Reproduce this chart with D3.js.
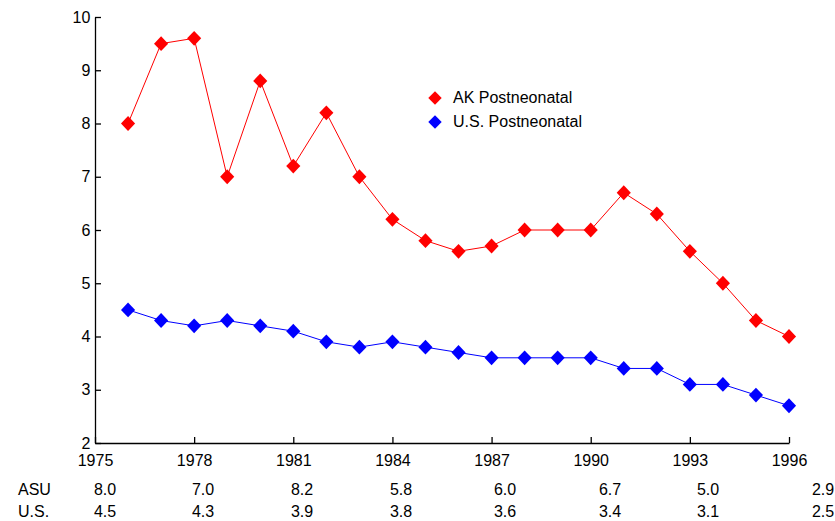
<!DOCTYPE html>
<html><head><meta charset="utf-8">
<script src="https://cdn.jsdelivr.net/npm/d3@7"></script>
<style>body{margin:0;background:#fff}text{font-family:Arial,"Liberation Sans",sans-serif}</style>
</head><body><svg id="c" width="835" height="521"></svg>
<script>
const years = d3.range(1976, 1997);
const akValues = [8.0,9.5,9.6,7.0,8.8,7.2,8.2,7.0,6.2,5.8,5.6,5.7,6.0,6.0,6.0,6.7,6.3,5.6,5.0,4.3,4.0];
const usValues = [4.5,4.3,4.2,4.3,4.2,4.1,3.9,3.8,3.9,3.8,3.7,3.6,3.6,3.6,3.6,3.4,3.4,3.1,3.1,2.9,2.7];
const xTicks = [1975,1978,1981,1984,1987,1990,1993,1996];
const yTicks = [2,3,4,5,6,7,8,9,10];
const asuRow = ["8.0","7.0","8.2","5.8","6.0","6.7","5.0","2.9"];
const usRow = ["4.5","4.3","3.9","3.8","3.6","3.4","3.1","2.5"];
const tableX = [105,203,302,401,505,610,708,823];
const svg = d3.select("#c");
const x = d3.scaleLinear().domain([1975,1996]).range([95,789]);
const y = d3.scaleLinear().domain([2,10]).range([443,17]);
const xa = svg.append("g").attr("transform","translate(0,443)")
  .call(d3.axisBottom(x).tickValues(xTicks).tickFormat(d3.format("d")).tickSize(-6).tickSizeOuter(0));
const ya = svg.append("g").attr("transform","translate(95,0)")
  .call(d3.axisLeft(y).tickValues(yTicks).tickSize(-6).tickSizeOuter(0));
[xa,ya].forEach(a=>{a.selectAll("path,line").attr("stroke","#000").attr("stroke-width",1.3);
  a.selectAll("text").attr("font-size",16).attr("fill","#000");});
xa.selectAll("text").attr("dy","1.25em");
ya.selectAll("text").attr("dx","-0.1em");
function series(vals,color){
  const line=d3.line().x((d,i)=>x(years[i])).y(d=>y(d));
  svg.append("path").datum(vals).attr("d",line).attr("fill","none").attr("stroke",color).attr("stroke-width",1);
  svg.selectAll(null).data(vals).enter().append("path")
    .attr("d",d3.symbol(d3.symbolSquare,100))
    .attr("transform",(d,i)=>`translate(${x(years[i])},${y(d)}) scale(1,1.05) rotate(45)`)
    .attr("fill",color);
}
series(akValues,"#ff0000");
series(usValues,"#0000ff");
const leg=[["AK Postneonatal","#ff0000",98],["U.S. Postneonatal","#0000ff",122]];
leg.forEach(([t,c,yy])=>{
  svg.append("path").attr("d",d3.symbol(d3.symbolSquare,90)).attr("transform",`translate(435,${yy}) rotate(45)`).attr("fill",c);
  svg.append("text").attr("x",453).attr("y",yy+5).attr("font-size",16).text(t);
});
svg.append("text").attr("x",18).attr("y",495).attr("font-size",16).text("ASU");
svg.append("text").attr("x",18).attr("y",517).attr("font-size",16).text("U.S.");
svg.selectAll(null).data(asuRow).enter().append("text").attr("x",(d,i)=>tableX[i]).attr("y",495).attr("text-anchor","middle").attr("font-size",16).text(d=>d);
svg.selectAll(null).data(usRow).enter().append("text").attr("x",(d,i)=>tableX[i]).attr("y",517).attr("text-anchor","middle").attr("font-size",16).text(d=>d);
</script></body></html>
